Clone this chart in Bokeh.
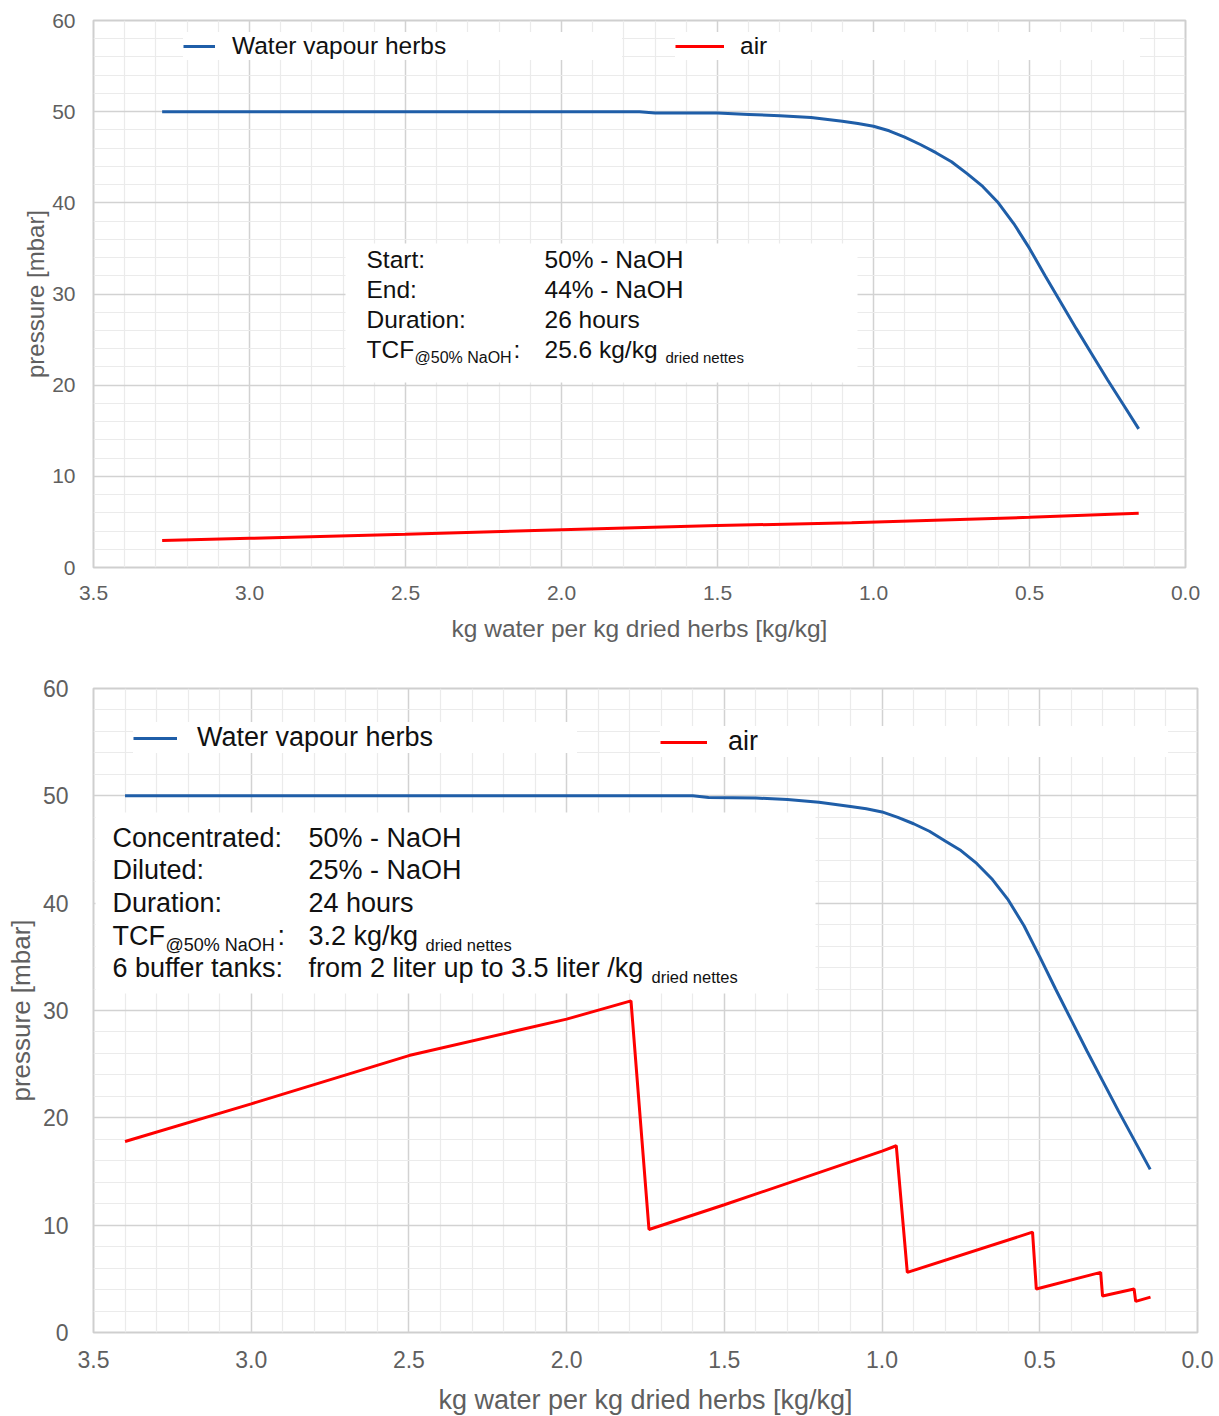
import math
from bokeh.plotting import figure
from bokeh.models import (Range1d, FixedTicker, PrintfTickFormatter, Legend, LegendItem,
                          BoxAnnotation, Label)
from bokeh.layouts import column
from bokeh.embed import file_html
from bokeh.resources import INLINE

# ---------------- data ----------------
x_ticks = [3.5, 3.0, 2.5, 2.0, 1.5, 1.0, 0.5, 0.0]
x_minor = [3.4, 3.3, 3.2, 3.1, 2.9, 2.8, 2.7, 2.6, 2.4, 2.3, 2.2, 2.1, 1.9, 1.8, 1.7, 1.6,
           1.4, 1.3, 1.2, 1.1, 0.9, 0.8, 0.7, 0.6, 0.4, 0.3, 0.2, 0.1]
y_ticks = [0, 10, 20, 30, 40, 50, 60]
y_minor = [2, 4, 6, 8, 12, 14, 16, 18, 22, 24, 26, 28, 32, 34, 36, 38, 42, 44, 46, 48,
           52, 54, 56, 58]

# chart 1
top_vapour_x = [3.28, 2.5, 2.0, 1.75, 1.7, 1.5, 1.4, 1.3, 1.2, 1.1, 1.05, 1.0, 0.95, 0.9,
                0.85, 0.8, 0.75, 0.7, 0.65, 0.6, 0.55, 0.5, 0.45, 0.4, 0.35, 0.3, 0.25,
                0.2, 0.15]
top_vapour_y = [50.0, 50.0, 50.0, 50.0, 49.85, 49.85, 49.7, 49.55, 49.35, 48.95, 48.7, 48.4,
                47.9, 47.2, 46.4, 45.5, 44.5, 43.2, 41.8, 40.0, 37.7, 35.0, 32.0, 29.1,
                26.2, 23.4, 20.6, 17.9, 15.2]
top_air_x = [3.28, 3.0, 2.5, 2.0, 1.5, 1.07, 0.5, 0.15]
top_air_y = [2.95, 3.2, 3.65, 4.15, 4.6, 4.9, 5.5, 5.95]

# chart 2
bot_vapour_x = [3.40, 2.5, 2.0, 1.6, 1.55, 1.4, 1.3, 1.2, 1.1, 1.05, 1.0, 0.95, 0.9, 0.85,
                0.8, 0.75, 0.7, 0.65, 0.6, 0.55, 0.5, 0.45, 0.4, 0.35, 0.3, 0.25, 0.2, 0.15]
bot_vapour_y = [50.0, 50.0, 50.0, 50.0, 49.85, 49.8, 49.65, 49.4, 49.0, 48.8, 48.5, 48.0,
                47.4, 46.7, 45.8, 44.9, 43.7, 42.2, 40.3, 37.9, 35.0, 32.0, 29.1, 26.2,
                23.4, 20.6, 17.9, 15.2]
bot_air_x = [3.40, 3.0, 2.5, 2.0, 1.796, 1.739, 1.5, 1.0, 0.955, 0.920, 0.523, 0.511,
             0.307, 0.301, 0.201, 0.196, 0.149]
bot_air_y = [17.8, 21.3, 25.8, 29.2, 30.9, 9.6, 11.9, 16.9, 17.4, 5.6, 9.35, 4.05,
             5.6, 3.4, 4.05, 2.9, 3.3]

series_names = ["Water vapour herbs", "air"]
x_title = "kg water per kg dried herbs [kg/kg]"
y_title = "pressure [mbar]"

top_keys = ["Start:", "End:", "Duration:", "TCF"]
top_vals = ["50% - NaOH", "44% - NaOH", "26 hours", "25.6 kg/kg"]
bot_keys = ["Concentrated:", "Diluted:", "Duration:", "TCF", "6 buffer tanks:"]
bot_vals = ["50% - NaOH", "25% - NaOH", "24 hours", "3.2 kg/kg",
            "from 2 liter up to 3.5 liter /kg"]
sub_tcf = "@50% NaOH"
sub_unit = "dried nettes"

BLUE = "#1f5ea8"
RED = "#ff0000"
FONT = "Liberation Sans"
GREY = "#5f5f5f"


def make_fig(fw, fh, left, top, right, bottom, tick_fs, xstand, ystand, xlab_fs, xlab_stand,
             ylab_fs, ylab_stand):
    p = figure(frame_width=fw, frame_height=fh, x_range=Range1d(3.5, 0.0),
               y_range=Range1d(0, 60), output_backend="svg", toolbar_location=None,
               min_border_left=left, min_border_top=top, min_border_right=right,
               min_border_bottom=bottom, background_fill_color="white",
               border_fill_color="white")
    p.xaxis.ticker = FixedTicker(ticks=x_ticks, minor_ticks=x_minor)
    p.yaxis.ticker = FixedTicker(ticks=y_ticks, minor_ticks=y_minor)
    p.xaxis.formatter = PrintfTickFormatter(format="%.1f")
    p.yaxis.formatter = PrintfTickFormatter(format="%d")
    for ax in (p.xaxis[0], p.yaxis[0]):
        ax.axis_line_color = None
        ax.major_tick_line_color = None
        ax.minor_tick_line_color = None
        ax.major_label_text_font = FONT
        ax.major_label_text_font_size = tick_fs
        ax.major_label_text_color = GREY
        ax.axis_label_text_font = FONT
        ax.axis_label_text_font_style = "normal"
        ax.axis_label_text_color = GREY
    p.yaxis.major_tick_out = 0
    p.yaxis.minor_tick_out = 0
    p.xaxis.major_label_standoff = xstand
    p.yaxis.major_label_standoff = ystand
    p.xaxis.axis_label = x_title
    p.xaxis.axis_label_text_font_size = xlab_fs
    p.xaxis.axis_label_standoff = xlab_stand
    p.yaxis.axis_label = y_title
    p.yaxis.axis_label_text_font_size = ylab_fs
    p.yaxis.axis_label_standoff = ylab_stand
    for g in (p.xgrid[0], p.ygrid[0]):
        g.grid_line_color = "#d2d2d2"
        g.grid_line_width = 1.5
        g.minor_grid_line_color = "#ebebeb"
        g.minor_grid_line_width = 1.2
    p.outline_line_color = "#cfcfcf"
    p.outline_line_width = 2
    return p


def add_legend(p, r, name, x, y, glyph_w, standoff, fs, lw):
    leg = Legend(items=[LegendItem(label=name, renderers=[r])], location=(x, y),
                 orientation="horizontal", glyph_width=glyph_w, glyph_height=20,
                 label_standoff=standoff, label_text_font=FONT, label_text_font_size=fs,
                 label_text_color="#111111", label_width=lw, padding=10, margin=0,
                 border_line_color=None, background_fill_color="white",
                 background_fill_alpha=1.0)
    p.add_layout(leg)


def txt(p, x, y, t, fs, color="#111111", align="left"):
    p.add_layout(Label(x=x, y=y, text=t, text_font=FONT, text_font_size=fs,
                       text_color=color, text_baseline="middle", text_align=align))


# ---------------- chart 1 ----------------
p1 = make_fig(1092, 547, 93, 20, 34, 83, "21px", 12, 18, "24.5px", 12, "24px", 0)
# reference pixel -> data helpers for annotation placement
X1 = lambda px: (1185 - px) / 312.0
Y1 = lambda py: (567 - py) / 9.117

r1b = p1.line(top_vapour_x, top_vapour_y, line_color=BLUE, line_width=3)
r1r = p1.line(top_air_x, top_air_y, line_color=RED, line_width=3)

add_legend(p1, r1b, series_names[0], 90, 507, 32, 17, "24.5px", 390)
add_legend(p1, r1r, series_names[1], 582, 507, 49, 16, "24.5px", 400)

p1.add_layout(BoxAnnotation(left=X1(345), right=X1(857), top=Y1(243), bottom=Y1(382),
                            fill_color="white", fill_alpha=1.0, line_color=None))
line_y1 = [259, 289, 319, 349]
for k, v, py in zip(top_keys, top_vals, line_y1):
    txt(p1, X1(366), Y1(py), k, "24.5px")
    txt(p1, X1(544), Y1(py), v, "24.5px")
txt(p1, X1(414), Y1(357), sub_tcf, "16px")
txt(p1, X1(513), Y1(349), ":", "24.5px")
txt(p1, X1(665), Y1(357), sub_unit, "15px")

# ---------------- chart 2 ----------------
p2 = make_fig(1104, 644, 93, 38, 22, 80, "23px", 12, 25, "27px", 14, "26px", 4)
X2 = lambda px: (1197 - px) / 315.43
Y2 = lambda py: (1332 - py) / 10.733

r2b = p2.line(bot_vapour_x, bot_vapour_y, line_color=BLUE, line_width=3)
r2r = p2.line(bot_air_x, bot_air_y, line_color=RED, line_width=3)

add_legend(p2, r2b, series_names[0], 40, 579, 44, 20, "27px", 380)
add_legend(p2, r2r, series_names[1], 567, 575, 47, 21, "27px", 440)

p2.add_layout(BoxAnnotation(left=X2(95), right=X2(815), top=Y2(812), bottom=Y2(993),
                            fill_color="white", fill_alpha=1.0, line_color=None))
line_y2 = [838, 870, 903, 936, 968]
for k, v, py in zip(bot_keys, bot_vals, line_y2):
    txt(p2, X2(112), Y2(py), k, "27px")
    txt(p2, X2(308), Y2(py), v, "27px")
txt(p2, X2(165), Y2(945), sub_tcf, "18px")
txt(p2, X2(277), Y2(936), ":", "27px")
txt(p2, X2(425), Y2(945), sub_unit, "16.5px")
txt(p2, X2(651), Y2(977), sub_unit, "16.5px")

layout = column(p1, p2, spacing=0)
open("out.html", "w").write(file_html(layout, INLINE))
